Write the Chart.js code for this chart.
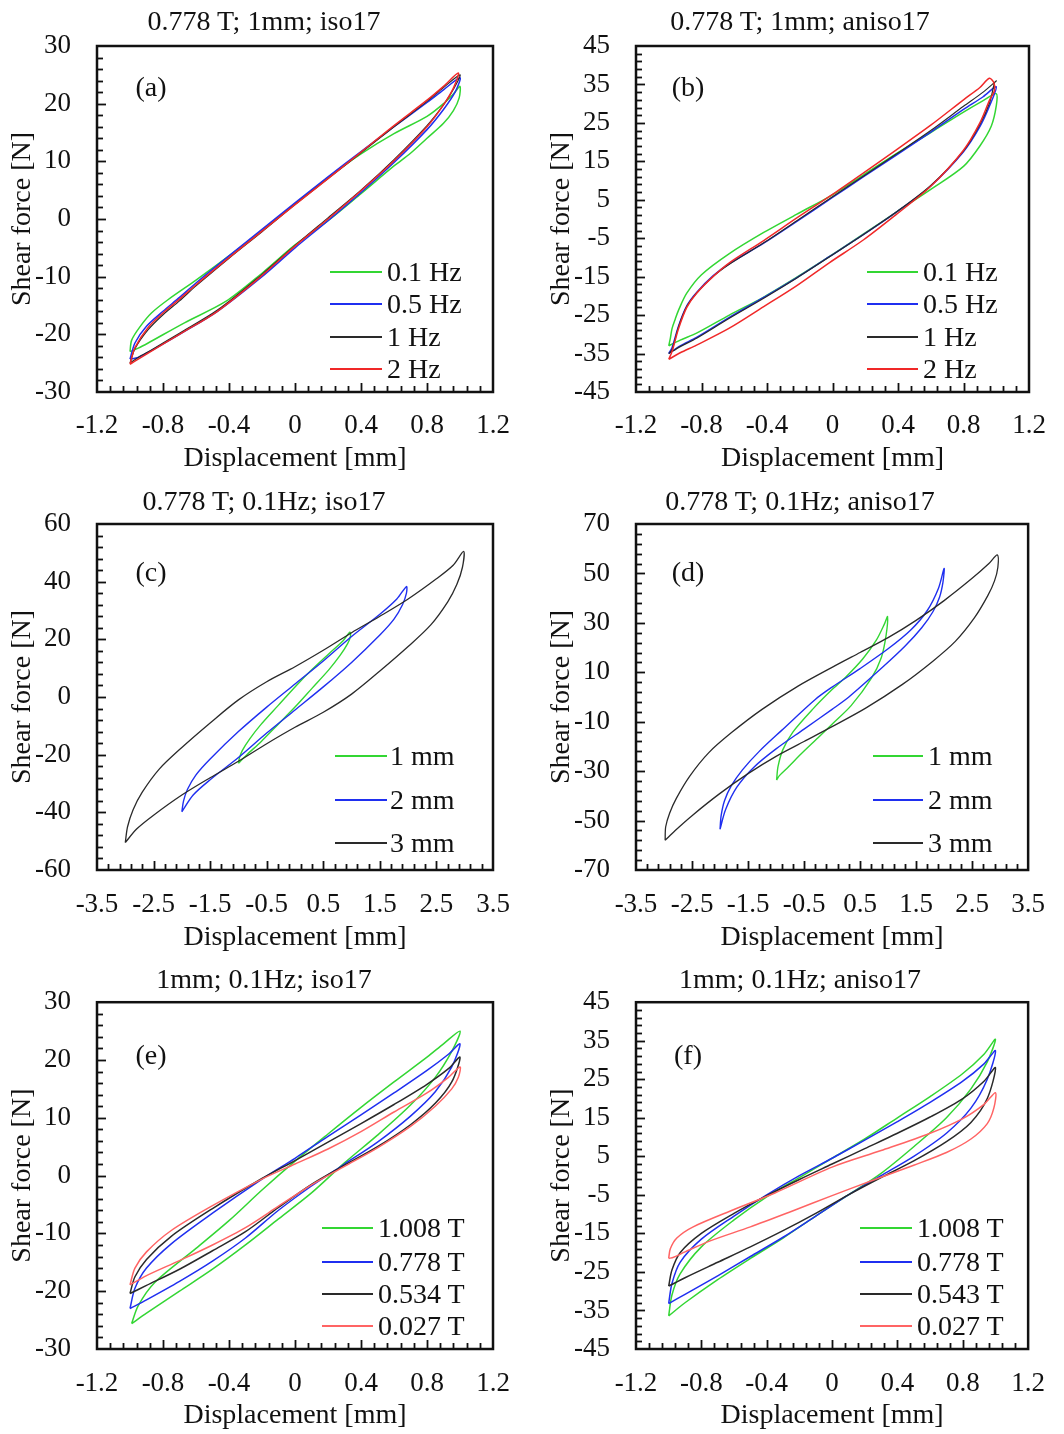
<!DOCTYPE html>
<html>
<head>
<meta charset="utf-8">
<script src="https://cdn.jsdelivr.net/npm/chart.js@4.4.1/dist/chart.umd.min.js"></script>
<style>
  body { margin: 0; background: #fff; width: 1064px; height: 1434px; position: relative; overflow: hidden;
         font-family: "Liberation Serif", "Times New Roman", serif; color: #111; }
  canvas { position: absolute; }
  .txt { position: absolute; font-size: 28px; line-height: 28px; white-space: nowrap; }
  .ctr { transform: translate(-50%, -50%); }
  .lft { transform: translateY(-50%); }
  .sw { position: absolute; height: 2px; transform: translateY(-50%); }
</style>
</head>
<body>
<script>
// ---- axis ranges: [min, max, step] ----
const xSmall = [-1.2, 1.2, 0.4];
const xLarge = [-3.5, 3.5, 1];
const yRangeA = [-30, 30, 10];
const yRangeB = [-45, 45, 10];
const yRangeC = [-60, 60, 20];
const yRangeD = [-70, 70, 20];

// ---- legend labels and titles ----
const freqLabels = ["0.1 Hz", "0.5 Hz", "1 Hz", "2 Hz"];
const ampLabels = ["1 mm", "2 mm", "3 mm"];
const fieldIso = ["1.008 T", "0.778 T", "0.534 T", "0.027 T"];
const fieldAniso = ["1.008 T", "0.778 T", "0.543 T", "0.027 T"];
const titles = ["0.778 T; 1mm; iso17", "0.778 T; 1mm; aniso17", "0.778 T; 0.1Hz; iso17",
                "0.778 T; 0.1Hz; aniso17", "1mm; 0.1Hz; iso17", "1mm; 0.1Hz; aniso17"];

// ---- loops: upper branch and lower branch, both left -> right, [disp mm, force N] ----
// (a) iso17, 1 mm, frequency
const aGreenUp = [[-1,-23],[-0.99,-21],[-0.94,-18.7],[-0.87,-16.3],[-0.77,-14],[-0.6,-10.6],[-0.4,-6.4],[-0.2,-2],[0,2.6],[0.2,7.2],[0.4,11.3],[0.6,14.8],[0.8,17.8],[0.9,20],[0.97,22],[1,23]];
const aGreenLo = [[-1,-23],[-0.95,-22.4],[-0.89,-21.5],[-0.67,-18],[-0.42,-14.3],[-0.2,-9.4],[0,-4.5],[0.2,-0.3],[0.4,4.4],[0.6,9.2],[0.7,11.4],[0.8,14],[0.9,16.6],[0.96,18.8],[0.995,21],[1,23]];
const aBlueUp = [[-1,-24.3],[-0.97,-21.5],[-0.9,-18.6],[-0.8,-16],[-0.7,-13.6],[-0.6,-11.1],[-0.4,-6.4],[-0.2,-1.8],[0,2.8],[0.2,7.3],[0.4,11.7],[0.6,16],[0.8,20.2],[0.9,22.4],[1,24.5]];
const aBlueLo = [[-1,-24.3],[-0.95,-24],[-0.87,-22.8],[-0.7,-20],[-0.47,-16],[-0.2,-10],[0,-5],[0.2,-0.3],[0.4,4.6],[0.6,9.8],[0.8,15.5],[0.9,19],[0.97,22],[1,24.5]];
const aBlackUp = [[-1,-25],[-0.97,-22.5],[-0.89,-19.2],[-0.8,-16.6],[-0.7,-14.2],[-0.6,-11.6],[-0.4,-6.8],[-0.2,-2.2],[0,2.5],[0.2,7],[0.4,11.5],[0.6,16],[0.8,20.4],[0.9,22.8],[1,25]];
const aBlackLo = [[-1,-25],[-0.95,-24],[-0.87,-22.7],[-0.7,-19.8],[-0.47,-15.8],[-0.2,-9.6],[0,-4.6],[0.2,0.2],[0.4,5],[0.6,10.3],[0.8,16.2],[0.9,19.8],[0.96,22.5],[1,25]];
const aRedUp = [[-1,-25.2],[-0.97,-22.3],[-0.89,-18.8],[-0.8,-16.3],[-0.7,-13.9],[-0.6,-11.4],[-0.4,-6.7],[-0.2,-2.1],[0,2.5],[0.2,7],[0.4,11.6],[0.6,16.2],[0.8,20.6],[0.9,23],[0.99,25.3]];
const aRedLo = [[-1,-25.2],[-0.95,-24.3],[-0.87,-22.9],[-0.7,-20],[-0.47,-16],[-0.2,-9.8],[0,-4.7],[0.2,0],[0.4,4.9],[0.6,10.1],[0.8,16],[0.9,19.8],[0.96,22.7],[0.99,25.3]];

// (b) aniso17, 1 mm, frequency
const bGreenUp = [[-1,-33],[-0.99,-31],[-0.98,-28.5],[-0.96,-26],[-0.94,-23.7],[-0.89,-19.3],[-0.8,-14.5],[-0.63,-9],[-0.42,-3.5],[-0.22,1.2],[0,6.3],[0.19,11.5],[0.39,17],[0.6,22.5],[0.8,27.8],[0.92,30.8],[1,32.6]];
const bGreenLo = [[-1,-33],[-0.93,-31.5],[-0.83,-29.7],[-0.63,-25],[-0.42,-20.3],[-0.22,-15.2],[-0.02,-9.8],[0.19,-3.9],[0.39,1.8],[0.6,7.7],[0.8,13.7],[0.9,19],[0.97,24.2],[1,29.4],[1,32.6]];
const bBlueUp = [[-1,-35],[-0.98,-33.5],[-0.94,-27.8],[-0.89,-22.6],[-0.83,-19.1],[-0.73,-14.8],[-0.63,-11.6],[-0.42,-6.3],[-0.22,-0.7],[0,5.6],[0.19,11],[0.39,16.6],[0.6,22.6],[0.8,28.5],[0.92,31.8],[1,34.4]];
const bBlueLo = [[-1,-35],[-0.93,-33],[-0.83,-30.8],[-0.63,-25.6],[-0.42,-20.4],[-0.22,-15.3],[-0.02,-9.8],[0.19,-4],[0.39,1.8],[0.6,8.6],[0.8,17.5],[0.9,24],[0.96,29.5],[1,34.4]];
const bBlackUp = [[-1,-35],[-0.98,-34],[-0.94,-28],[-0.89,-22.8],[-0.83,-19.3],[-0.73,-15],[-0.63,-11.8],[-0.42,-6.2],[-0.22,-0.5],[0,5.8],[0.19,11.2],[0.39,16.9],[0.6,23],[0.8,29.3],[0.92,33],[1,35.9]];
const bBlackLo = [[-1,-35],[-0.93,-33.2],[-0.83,-31],[-0.63,-25.8],[-0.42,-20.6],[-0.22,-15.4],[-0.02,-9.9],[0.19,-4],[0.39,1.8],[0.6,8.7],[0.8,17.7],[0.9,24.6],[0.96,30.3],[0.99,35.5],[1,35.9]];
const bRedUp = [[-1,-36.5],[-0.98,-34.5],[-0.94,-28.5],[-0.89,-23],[-0.83,-19.3],[-0.73,-15],[-0.63,-11.4],[-0.42,-5.6],[-0.22,0.2],[0,6.4],[0.19,12],[0.39,18],[0.6,24.4],[0.8,31],[0.9,34.2],[0.958,36.6]];
const bRedLo = [[-1,-36.5],[-0.93,-34.8],[-0.83,-32.8],[-0.63,-28.4],[-0.42,-22.8],[-0.22,-17.4],[-0.02,-11.4],[0.19,-5.4],[0.39,1.2],[0.6,8.5],[0.8,17.9],[0.9,25],[0.96,31],[0.99,33.5],[0.985,35.5],[0.958,36.6]];

// (c) iso17, 0.1 Hz, amplitude
const cGreenUp = [[-1,-23],[-0.98,-21],[-0.93,-18.5],[-0.8,-14.5],[-0.6,-9.5],[-0.3,-3],[0,3.5],[0.3,9.5],[0.6,15],[0.85,19.5],[0.97,22.5]];
const cGreenLo = [[-1,-23],[-0.85,-20],[-0.6,-15.5],[-0.3,-9.5],[0,-3.5],[0.3,3],[0.6,9.5],[0.8,14.5],[0.93,18.5],[0.98,21],[0.97,22.5]];
const cBlueUp = [[-2,-39.8],[-1.97,-36],[-1.9,-32],[-1.75,-27],[-1.5,-21.5],[-1,-12],[-0.5,-3.5],[0,4.5],[0.5,12.5],[1,21],[1.5,28.7],[1.8,34],[1.97,38.3]];
const cBlueLo = [[-2,-39.8],[-1.8,-34],[-1.5,-28.7],[-1,-21],[-0.5,-12.5],[0,-4.5],[0.5,3.5],[1,12],[1.5,21.5],[1.75,27],[1.9,32],[1.97,36],[1.97,38.3]];
const cBlackUp = [[-3,-50.5],[-2.96,-45],[-2.86,-39],[-2.7,-33],[-2.4,-25],[-2,-17.5],[-1.5,-9],[-1,-1],[-0.5,5.3],[0,10.5],[0.5,16.2],[1,22.3],[1.5,28],[2,34],[2.5,41],[2.8,45.8],[2.98,50.5]];
const cBlackLo = [[-3,-50.5],[-2.8,-45.8],[-2.5,-41],[-2,-34],[-1.5,-28],[-1,-22.3],[-0.5,-16.2],[0,-10.5],[0.5,-5.3],[1,1],[1.5,9],[2,17.5],[2.4,25],[2.7,33],[2.86,39],[2.96,45],[2.98,50.5]];

// (d) aniso17, 0.1 Hz, amplitude
const dGreenUp = [[-0.99,-33.6],[-0.965,-28.2],[-0.88,-21.4],[-0.7,-14.2],[-0.34,-4.8],[0,3],[0.25,8.2],[0.55,15.5],[0.79,23],[0.94,29.8],[0.99,32.5]];
const dGreenLo = [[-0.99,-33.6],[-0.94,-31.8],[-0.79,-28.5],[-0.55,-23],[-0.25,-16.5],[0,-11],[0.34,-3.5],[0.7,7.5],[0.88,16],[0.965,25],[0.99,32.5]];
const dBlueUp = [[-2,-53.5],[-1.98,-48],[-1.92,-42],[-1.8,-36],[-1.6,-29.5],[-1.3,-22],[-0.9,-13.5],[-0.3,-1],[0,4],[0.5,11.5],[1,19.5],[1.4,27],[1.7,35],[1.9,44],[2,52]];
const dBlueLo = [[-2,-53.5],[-1.9,-45.5],[-1.7,-36.5],[-1.4,-28.5],[-1,-21],[-0.5,-13],[0,-5],[0.3,0],[0.9,12],[1.3,20.5],[1.6,28],[1.8,34.5],[1.92,40.5],[1.98,46.5],[2,52]];
const dBlackUp = [[-2.98,-58],[-2.97,-52.5],[-2.9,-47],[-2.78,-41],[-2.54,-32],[-2.2,-22.5],[-1.8,-14.5],[-1.25,-5],[-0.6,4.5],[0,12],[0.5,18],[1,24],[1.5,31],[2,39],[2.5,48],[2.8,54],[2.95,57.5]];
const dBlackLo = [[-2.98,-58],[-2.8,-54],[-2.5,-48],[-2,-39],[-1.5,-31],[-1,-24],[-0.5,-18],[0,-12],[0.6,-4.5],[1.25,5],[1.8,14.5],[2.2,22.5],[2.54,32],[2.78,41],[2.9,47],[2.96,52.5],[2.95,57.5]];

// (e) iso17, 1 mm, 0.1 Hz, field
const eGreenUp = [[-0.99,-25.6],[-0.95,-22.5],[-0.85,-18.5],[-0.6,-12.6],[-0.4,-7.8],[-0.2,-2.5],[0,2.5],[0.2,7.2],[0.4,11.8],[0.6,16.2],[0.8,20.5],[0.9,22.8],[1,25]];
const eGreenLo = [[-0.99,-25.6],[-0.9,-23.8],[-0.7,-20],[-0.5,-16.2],[-0.3,-12],[-0.1,-7.5],[0.1,-3],[0.3,2.2],[0.5,7],[0.7,12.2],[0.85,17],[0.95,21.5],[1,25]];
const eBlueUp = [[-1,-23],[-0.97,-19.5],[-0.9,-16],[-0.75,-11.8],[-0.5,-6.5],[-0.2,-0.6],[0,3],[0.2,6.8],[0.4,10.5],[0.6,14.3],[0.8,18.2],[0.93,21],[1,22.8]];
const eBlueLo = [[-1,-23],[-0.9,-21.5],[-0.7,-18.3],[-0.5,-14.8],[-0.3,-10.8],[-0.1,-6],[0.1,-1.8],[0.3,2],[0.5,5.8],[0.7,10.3],[0.85,14.5],[0.95,18.8],[1,22.8]];
const eBlackUp = [[-1,-20.4],[-0.97,-17.5],[-0.9,-14.5],[-0.75,-10.5],[-0.5,-5.7],[-0.2,-0.5],[0,2.6],[0.2,5.8],[0.4,9],[0.6,12.3],[0.8,15.8],[0.93,18.5],[1,20.5]];
const eBlackLo = [[-1,-20.4],[-0.9,-19],[-0.7,-16.2],[-0.5,-13],[-0.3,-9.7],[-0.1,-5.5],[0.1,-1.5],[0.3,1.8],[0.5,5],[0.7,8.8],[0.85,12.5],[0.95,16.2],[1,20.5]];
const eRedUp = [[-1,-18.9],[-0.97,-16],[-0.9,-13.2],[-0.75,-9.5],[-0.5,-5.2],[-0.2,-0.6],[0,2],[0.2,4.6],[0.4,7.6],[0.6,11],[0.8,14.3],[0.93,17],[1,18.8]];
const eRedLo = [[-1,-18.9],[-0.9,-17.3],[-0.7,-14.7],[-0.5,-12],[-0.3,-9],[-0.1,-5.3],[0.1,-1.6],[0.3,1.6],[0.5,4.8],[0.7,8.5],[0.85,12],[0.95,15],[0.99,17],[1,18.8]];

// (f) aniso17, 1 mm, 0.1 Hz, field
const fGreenUp = [[-1,-36.4],[-0.98,-31],[-0.93,-25.5],[-0.8,-18.5],[-0.6,-11.5],[-0.4,-5.5],[-0.2,-0.5],[0,4.5],[0.2,9.5],[0.4,15],[0.6,20.5],[0.8,26.5],[0.93,31.5],[1,35.4]];
const fGreenLo = [[-1,-36.4],[-0.9,-33],[-0.7,-27],[-0.5,-21.5],[-0.3,-16.2],[-0.1,-10.5],[0.1,-5],[0.3,0.6],[0.5,7.5],[0.7,15],[0.85,22.5],[0.95,29.5],[1,35.4]];
const fBlueUp = [[-1,-33.2],[-0.98,-28],[-0.93,-22.5],[-0.8,-16.5],[-0.6,-10.5],[-0.4,-5],[-0.2,0],[0,4.5],[0.2,9.2],[0.4,14],[0.6,19],[0.8,24.5],[0.93,29],[1,32.4]];
const fBlueLo = [[-1,-33.2],[-0.9,-30.8],[-0.7,-26],[-0.5,-21],[-0.3,-16],[-0.1,-10.5],[0.1,-5],[0.3,0],[0.5,5],[0.7,11],[0.85,17.5],[0.95,25],[1,32.4]];
const fBlackUp = [[-1,-28.7],[-0.98,-24.5],[-0.93,-20],[-0.8,-15],[-0.6,-9.8],[-0.4,-5.2],[-0.2,-1],[0,3],[0.2,7],[0.4,11],[0.6,15.2],[0.8,20],[0.93,24.5],[1,28]];
const fBlackLo = [[-1,-28.7],[-0.9,-26.5],[-0.7,-22.5],[-0.5,-18.5],[-0.3,-14.3],[-0.1,-9.8],[0.1,-5],[0.3,-0.5],[0.5,3.8],[0.7,8.8],[0.85,13.8],[0.95,20],[1,28]];
const fRedUp = [[-1,-21.5],[-0.99,-19],[-0.95,-16.2],[-0.85,-13.3],[-0.6,-8.8],[-0.35,-4.5],[0,2.2],[0.3,6.5],[0.6,11],[0.8,14.8],[0.93,18.5],[1,21.5]];
const fRedLo = [[-1,-21.5],[-0.97,-21.2],[-0.9,-19.8],[-0.75,-17],[-0.5,-13.3],[-0.25,-9.3],[0,-5.2],[0.25,-1.2],[0.5,2.7],[0.7,6],[0.85,9.5],[0.95,13.5],[0.99,17.5],[1,21.5]];

const GREEN = "#33d633", BLUE = "#1f2ff0", BLACK = "#2a2a2a", RED = "#f02828", PINK = "#ff6464";

// closed loop: upper left->right, then lower back right->left
function loop(up, lo) {
  return up.concat(lo.slice(0, -1).reverse()).map(p => ({ x: p[0], y: p[1] }));
}

const FONT = '"Liberation Serif", "Times New Roman", serif';

// inward minor/major ticks and closed frame
const framePlugin = {
  id: "frame",
  afterDatasetsDraw(chart, args, opts) {
    const { ctx, chartArea: a, scales } = chart;
    const x = scales.x, y = scales.y;
    ctx.save();
    ctx.strokeStyle = "#111";
    ctx.lineWidth = 1.8;
    const n = Math.round((x.max - x.min) / opts.xMinor);
    for (let i = 1; i < n; i++) {
      const px = Math.round(x.getPixelForValue(x.min + i * opts.xMinor)) + 0.5;
      const len = i % 5 === 0 ? 9 : 6;
      ctx.beginPath(); ctx.moveTo(px, a.bottom); ctx.lineTo(px, a.bottom - len); ctx.stroke();
    }
    const m = Math.round((y.max - y.min) / opts.yMinor);
    for (let i = 1; i < m; i++) {
      const py = Math.round(y.getPixelForValue(y.min + i * opts.yMinor)) + 0.5;
      const len = i % 5 === 0 ? 9 : 6;
      ctx.beginPath(); ctx.moveTo(a.left, py); ctx.lineTo(a.left + len, py); ctx.stroke();
    }
    ctx.lineWidth = 2.5;
    ctx.strokeRect(a.left, a.top, a.right - a.left, a.bottom - a.top);
    ctx.restore();
  }
};

const rows = [
  { top: 0, h: 480, padT: 46, xH: 88, tickPad: 18, xTitlePad: 5, titleY: 21, tagY: 87, legY4: [272, 304, 337, 369], legY3: [] },
  { top: 480, h: 480, padT: 44, xH: 90, tickPad: 19, xTitlePad: 6, titleY: 501, tagY: 572, legY4: [], legY3: [756, 800, 843] },
  { top: 960, h: 474, padT: 42, xH: 85, tickPad: 19, xTitlePad: 2, titleY: 979, tagY: 1055, legY4: [1228, 1262, 1294, 1326], legY3: [] }
];
const cols = [
  { left: 0, w: 530, yW: 97, padR: 37, yTitlePad: 6, titleX: 264, tagX: 151 },
  { left: 530, w: 534, yW: 106, padR: 35, yTitlePad: 15, titleX: 800, tagX: 688 }
];

const panels = [
  { row: 0, col: 0, tag: "(a)", xr: xSmall, yr: yRangeA, xMinor: 0.08, yMinor: 2, labels: freqLabels, leg: [330, 382, 387],
    sets: [[aGreenUp, aGreenLo, GREEN, 1.5], [aBlueUp, aBlueLo, BLUE, 1.5], [aBlackUp, aBlackLo, BLACK, 1.2], [aRedUp, aRedLo, RED, 1.5]] },
  { row: 0, col: 1, tag: "(b)", xr: xSmall, yr: yRangeB, xMinor: 0.08, yMinor: 2, labels: freqLabels, leg: [867, 918, 923],
    sets: [[bGreenUp, bGreenLo, GREEN, 1.5], [bBlueUp, bBlueLo, BLUE, 1.5], [bBlackUp, bBlackLo, BLACK, 1.2], [bRedUp, bRedLo, RED, 1.5]] },
  { row: 1, col: 0, tag: "(c)", xr: xLarge, yr: yRangeC, xMinor: 0.2, yMinor: 4, labels: ampLabels, leg: [335, 387, 390],
    sets: [[cGreenUp, cGreenLo, GREEN, 1.4], [cBlueUp, cBlueLo, BLUE, 1.4], [cBlackUp, cBlackLo, BLACK, 1.3]] },
  { row: 1, col: 1, tag: "(d)", xr: xLarge, yr: yRangeD, xMinor: 0.2, yMinor: 4, labels: ampLabels, leg: [873, 923, 928],
    sets: [[dGreenUp, dGreenLo, GREEN, 1.4], [dBlueUp, dBlueLo, BLUE, 1.4], [dBlackUp, dBlackLo, BLACK, 1.3]] },
  { row: 2, col: 0, tag: "(e)", xr: xSmall, yr: yRangeA, xMinor: 0.08, yMinor: 2, labels: fieldIso, leg: [322, 373, 378],
    sets: [[eGreenUp, eGreenLo, GREEN, 1.5], [eBlueUp, eBlueLo, BLUE, 1.5], [eBlackUp, eBlackLo, BLACK, 1.5], [eRedUp, eRedLo, PINK, 1.5]] },
  { row: 2, col: 1, tag: "(f)", xr: xSmall, yr: yRangeB, xMinor: 0.08, yMinor: 2, labels: fieldAniso, leg: [860, 912, 917],
    sets: [[fGreenUp, fGreenLo, GREEN, 1.5], [fBlueUp, fBlueLo, BLUE, 1.5], [fBlackUp, fBlackLo, BLACK, 1.5], [fRedUp, fRedLo, PINK, 1.5]] }
];

function addText(text, x, y, cls) {
  const d = document.createElement("div");
  d.className = "txt " + cls;
  d.style.left = x + "px";
  d.style.top = y + "px";
  d.textContent = text;
  document.body.appendChild(d);
}

panels.forEach((p, k) => {
  const r = rows[p.row], c = cols[p.col];
  const cv = document.createElement("canvas");
  cv.width = c.w; cv.height = r.h;
  cv.style.left = c.left + "px"; cv.style.top = r.top + "px";
  cv.style.width = c.w + "px"; cv.style.height = r.h + "px";
  document.body.appendChild(cv);

  const n = p.sets.length;
  new Chart(cv, {
    type: "scatter",
    data: {
      datasets: p.sets.map((s, i) => ({
        data: loop(s[0], s[1]),
        showLine: true,
        borderColor: s[2],
        borderWidth: s[3],
        pointRadius: 0,
        tension: 0.3,
        fill: false,
        order: n - i
      }))
    },
    options: {
      responsive: false,
      animation: false,
      devicePixelRatio: 1,
      layout: { padding: { top: r.padT, right: c.padR, left: 0, bottom: 0 } },
      plugins: {
        legend: { display: false },
        tooltip: { enabled: false },
        frame: { xMinor: p.xMinor, yMinor: p.yMinor }
      },
      scales: {
        x: {
          type: "linear", min: p.xr[0], max: p.xr[1],
          grid: { display: false, drawTicks: false },
          border: { display: false },
          ticks: { stepSize: p.xr[2], padding: r.tickPad, color: "#111", maxRotation: 0, autoSkip: false,
                   font: { family: FONT, size: 27 },
                   callback: v => String(Math.round(v * 10) / 10) },
          title: { display: true, text: "Displacement [mm]", color: "#111",
                   font: { family: FONT, size: 28 }, padding: { top: 0, bottom: r.xTitlePad } },
          afterFit: s => { s.height = r.xH; }
        },
        y: {
          type: "linear", min: p.yr[0], max: p.yr[1],
          grid: { display: false, drawTicks: false },
          border: { display: false },
          ticks: { stepSize: p.yr[2], padding: 26, color: "#111", autoSkip: false,
                   font: { family: FONT, size: 27 },
                   callback: v => String(Math.round(v)) },
          title: { display: true, text: "Shear force [N]", color: "#111",
                   font: { family: FONT, size: 28 }, padding: { top: c.yTitlePad, bottom: 0 } },
          afterFit: s => { s.width = c.yW; }
        }
      }
    },
    plugins: [framePlugin]
  });

  addText(titles[k], c.titleX, r.titleY, "ctr");
  addText(p.tag, c.tagX, r.tagY, "ctr");
  const ys = n === 3 ? r.legY3 : r.legY4;
  p.labels.forEach((lab, i) => {
    const sw = document.createElement("div");
    sw.className = "sw";
    sw.style.left = p.leg[0] + "px";
    sw.style.width = (p.leg[1] - p.leg[0]) + "px";
    sw.style.top = ys[i] + "px";
    sw.style.background = p.sets[i][2];
    document.body.appendChild(sw);
    addText(lab, p.leg[2], ys[i], "lft");
  });
});
</script>
</body>
</html>
